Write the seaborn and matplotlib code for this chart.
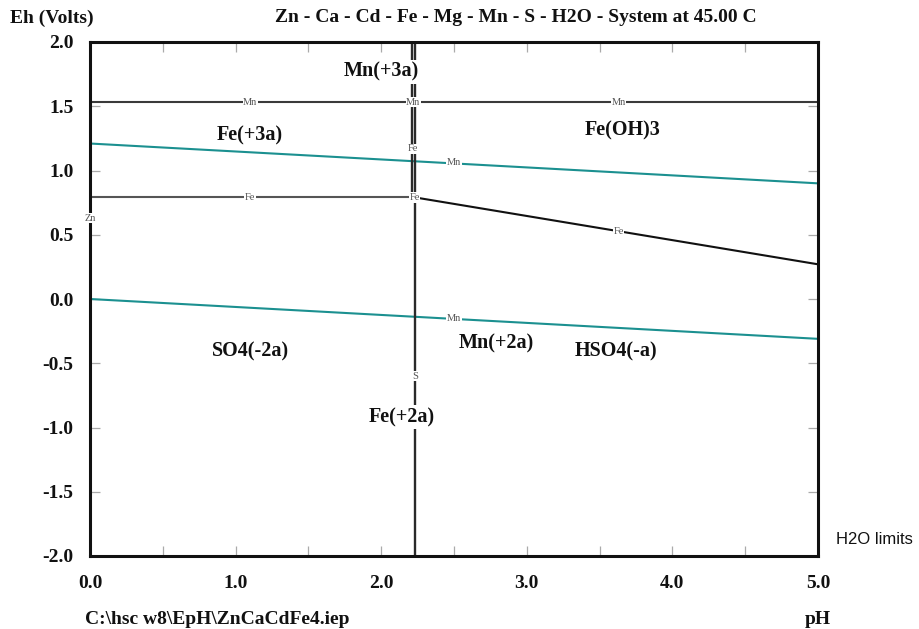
import matplotlib
matplotlib.use("Agg")
import matplotlib.pyplot as plt
import seaborn as sns
import pandas as pd

# ---- data ----
seg_names = ["Mn_upper", "H2O_upper", "Fe_horiz", "Fe_slope", "H2O_lower", "S_vert", "Mn_vert"]
seg_ph0 = [0.0, 0.0, 0.0, 2.235, 0.0, 2.235, 2.21]
seg_ph1 = [5.0, 5.0, 2.235, 5.0, 5.0, 2.235, 2.21]
seg_eh0 = [1.53, 1.21, 0.79, 0.79, 0.00, -2.0, 0.79]
seg_eh1 = [1.53, 0.90, 0.79, 0.27, -0.31, 2.0, 2.0]
seg_colors = ["#3a3a3a", "#1b9090", "#555555", "#111111", "#1b9090", "#2a2a2a", "#2a2a2a"]

region_labels = ["Mn(+3a)", "Fe(+3a)", "Fe(OH)3", "SO4(-2a)", "Mn(+2a)", "HSO4(-a)", "Fe(+2a)"]
region_ph = [2.0, 1.10, 3.66, 1.10, 2.79, 3.61, 2.14]
region_eh = [1.77, 1.27, 1.31, -0.41, -0.35, -0.41, -0.92]

tag_labels = ["Mn", "Mn", "Mn", "Fe", "Mn", "Fe", "Fe", "Fe", "Zn", "Mn", "S"]
tag_ph = [1.1, 2.22, 3.63, 2.22, 2.5, 1.1, 2.23, 3.63, 0.0, 2.5, 2.235]
tag_eh = [1.53, 1.53, 1.53, 1.17, 1.065, 0.79, 0.79, 0.525, 0.63, -0.155, -0.60]

x_ticklabels = ["0.0", "1.0", "2.0", "3.0", "4.0", "5.0"]
y_ticklabels = ["-2.0", "-1.5", "-1.0", "-0.5", "0.0", "0.5", "1.0", "1.5", "2.0"]

# ---- figure ----
sns.set_theme(style="white")
plt.rcParams["font.family"] = ["Liberation Serif", "DejaVu Serif"]

fig = plt.figure(figsize=(9.19, 6.29), dpi=100)
ax = fig.add_axes([90 / 919, 1 - 556 / 629, (818 - 90) / 919, (556 - 42) / 629])

for name, x0, x1, y0, y1, c in zip(seg_names, seg_ph0, seg_ph1, seg_eh0, seg_eh1, seg_colors):
    df = pd.DataFrame({"pH": [x0, x1], "Eh": [y0, y1]})
    lw = 1.7 if "vert" in name else 1.5
    sns.lineplot(data=df, x="pH", y="Eh", color=c, linewidth=lw, ax=ax,
                 sort=False, estimator=None, legend=False)

for t, x, y in zip(tag_labels, tag_ph, tag_eh):
    ax.text(x, y, t, fontsize=7.5, color="#555555", ha="center", va="center",
            bbox=dict(boxstyle="square,pad=0.05", fc="white", ec="none"), zorder=5,
            clip_on=False)

for t, x, y in zip(region_labels, region_ph, region_eh):
    ax.text(x, y, t, fontsize=14.5, fontweight="bold", color="#111111",
            ha="center", va="center", zorder=6,
            bbox=dict(boxstyle="square,pad=0.1", fc="white", ec="none"))

ax.set_xlim(0, 5)
ax.set_ylim(-2, 2)
ax.set_xticks([0.5 * i for i in range(11)], minor=True)
ax.set_xticks([float(v) for v in x_ticklabels])
ax.set_xticklabels(x_ticklabels)
ax.set_yticks([float(v) for v in y_ticklabels])
ax.set_yticklabels(y_ticklabels)
ax.tick_params(axis="both", which="both", direction="in", top=True, right=True,
               bottom=True, left=True,
               length=7, width=0.9, color="#aaaaaa", labelsize=14, labelcolor="#111111")
ax.tick_params(axis="x", which="both", pad=14)
ax.tick_params(axis="y", which="both", pad=12)
for lab in ax.get_xticklabels() + ax.get_yticklabels():
    lab.set_fontweight("bold")
for s in ax.spines.values():
    s.set_color("#111111")
    s.set_linewidth(2.2)
ax.set_xlabel("")
ax.set_ylabel("")

fig.text(10 / 919, 1 - 18 / 629, "Eh (Volts)", fontsize=14, fontweight="bold",
         ha="left", va="center", color="#111111")
fig.text(516 / 919, 1 - 18 / 629, "Zn - Ca - Cd - Fe - Mg - Mn - S - H2O - System at 45.00 C",
         fontsize=14, fontweight="bold", ha="center", va="center", color="#111111")
fig.text(85 / 919, 1 - 619 / 629, "C:\\hsc w8\\EpH\\ZnCaCdFe4.iep", fontsize=14,
         fontweight="bold", ha="left", va="center", color="#111111")
fig.text(818 / 919, 1 - 619 / 629, "pH", fontsize=14, fontweight="bold",
         ha="center", va="center", color="#111111")
fig.text(836 / 919, 1 - 540 / 629, "H2O limits", fontsize=12, family=["Liberation Sans", "DejaVu Sans"],
         ha="left", va="center", color="#111111")

fig.savefig("out.png", dpi=100)
